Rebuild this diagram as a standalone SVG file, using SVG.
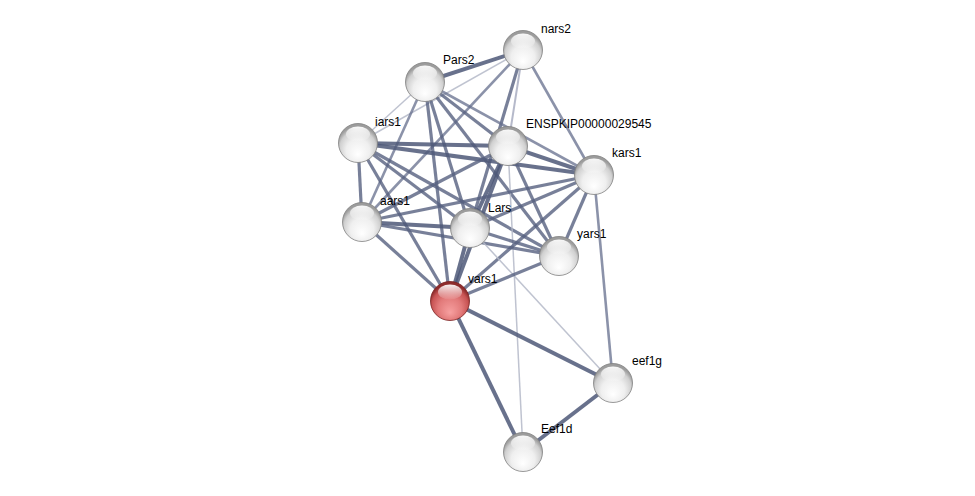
<svg xmlns="http://www.w3.org/2000/svg" width="975" height="496" viewBox="0 0 975 496">
<defs>
<radialGradient id="gw" cx="0.5" cy="0.62" r="0.55" fx="0.5" fy="0.8">
<stop offset="0" stop-color="#ffffff"/>
<stop offset="0.55" stop-color="#efefef"/>
<stop offset="0.85" stop-color="#d0d0d0"/>
<stop offset="1" stop-color="#9c9c9c"/>
</radialGradient>
<radialGradient id="gr" cx="0.5" cy="0.62" r="0.55" fx="0.5" fy="0.8">
<stop offset="0" stop-color="#f7a0a0"/>
<stop offset="0.55" stop-color="#e27a7a"/>
<stop offset="0.85" stop-color="#c85454"/>
<stop offset="1" stop-color="#8e2c2c"/>
</radialGradient>
<linearGradient id="hl" x1="0" y1="0" x2="0" y2="1">
<stop offset="0" stop-color="#ffffff" stop-opacity="0.95"/>
<stop offset="1" stop-color="#ffffff" stop-opacity="0.05"/>
</linearGradient>
</defs>
<style>
.e line{fill:none;stroke-linecap:butt}
.s4{stroke:#4e5878;stroke-width:4;stroke-opacity:0.85}
.s3{stroke:#56607f;stroke-width:3.2;stroke-opacity:0.8}
.s2{stroke:#646d8c;stroke-width:2.6;stroke-opacity:0.75}
.l{stroke:#959bb3;stroke-width:2;stroke-opacity:0.7}
.vl{stroke:#b4b8c8;stroke-width:1.5;stroke-opacity:0.85}
.bw{fill:url(#gw);stroke:#808080;stroke-width:0.8}
.br{fill:url(#gr);stroke:#7a2020;stroke-width:0.8}
.h{fill:url(#hl)}
text{font-family:"Liberation Sans",Arial,sans-serif;font-size:12px;fill:#000}
</style>
<rect width="975" height="496" fill="#ffffff"/>
<g id="connectors" class="e">
<line class="vl" x1="358" y1="143" x2="523" y2="50"/>
<line class="vl" x1="358" y1="143" x2="425" y2="82"/>
<line class="s4" x1="425" y1="82" x2="523" y2="50"/>
<line class="l" x1="523" y1="50" x2="508" y2="146"/>
<line class="s3" x1="523" y1="50" x2="470" y2="228"/>
<line class="s2" x1="523" y1="50" x2="594" y2="175"/>
<line class="s2" x1="523" y1="50" x2="362" y2="222"/>
<line class="s2" x1="425" y1="82" x2="362" y2="222"/>
<line class="s3" x1="425" y1="82" x2="450" y2="301"/>
<line class="s3" x1="425" y1="82" x2="470" y2="228"/>
<line class="s3" x1="425" y1="82" x2="559" y2="256"/>
<line class="s3" x1="425" y1="82" x2="508" y2="146"/>
<line class="s2" x1="425" y1="82" x2="594" y2="175"/>
<line class="s4" x1="358" y1="143" x2="508" y2="146"/>
<line class="s4" x1="358" y1="143" x2="594" y2="175"/>
<line class="s3" x1="358" y1="143" x2="362" y2="222"/>
<line class="s3" x1="358" y1="143" x2="470" y2="228"/>
<line class="s3" x1="358" y1="143" x2="559" y2="256"/>
<line class="s3" x1="358" y1="143" x2="450" y2="301"/>
<line class="s4" x1="508" y1="146" x2="594" y2="175"/>
<line class="s3" x1="508" y1="146" x2="362" y2="222"/>
<line class="s4" x1="508" y1="146" x2="470" y2="228"/>
<line class="s3" x1="508" y1="146" x2="559" y2="256"/>
<line class="s4" x1="508" y1="146" x2="450" y2="301"/>
<line class="vl" x1="508" y1="146" x2="523" y2="452"/>
<line class="s3" x1="594" y1="175" x2="362" y2="222"/>
<line class="s3" x1="594" y1="175" x2="470" y2="228"/>
<line class="s3" x1="594" y1="175" x2="559" y2="256"/>
<line class="s3" x1="594" y1="175" x2="450" y2="301"/>
<line class="s2" x1="594" y1="175" x2="613" y2="383"/>
<line class="s4" x1="362" y1="222" x2="470" y2="228"/>
<line class="s3" x1="362" y1="222" x2="559" y2="256"/>
<line class="s3" x1="362" y1="222" x2="450" y2="301"/>
<line class="s3" x1="470" y1="228" x2="559" y2="256"/>
<line class="s4" x1="470" y1="228" x2="450" y2="301"/>
<line class="vl" x1="470" y1="228" x2="613" y2="383"/>
<line class="s3" x1="559" y1="256" x2="450" y2="301"/>
<line class="s4" x1="450" y1="301" x2="613" y2="383"/>
<line class="s4" x1="450" y1="301" x2="523" y2="452"/>
<line class="s4" x1="613" y1="383" x2="523" y2="452"/>
</g>
<g id="node-nars2"><circle class="bw" cx="523" cy="50" r="19.5"/><ellipse class="h" cx="523" cy="41" rx="12" ry="7.5"/><text x="541" y="33">nars2</text></g>
<g id="node-Pars2"><circle class="bw" cx="425" cy="82" r="19.5"/><ellipse class="h" cx="425" cy="73" rx="12" ry="7.5"/><text x="443" y="64">Pars2</text></g>
<g id="node-iars1"><circle class="bw" cx="358" cy="143" r="19.5"/><ellipse class="h" cx="358" cy="134" rx="12" ry="7.5"/><text x="375" y="126">iars1</text></g>
<g id="node-ENSPKIP00000029545"><circle class="bw" cx="508" cy="146" r="19.5"/><ellipse class="h" cx="508" cy="137" rx="12" ry="7.5"/><text x="526" y="128">ENSPKIP00000029545</text></g>
<g id="node-kars1"><circle class="bw" cx="594" cy="175" r="19.5"/><ellipse class="h" cx="594" cy="166" rx="12" ry="7.5"/><text x="612" y="157">kars1</text></g>
<g id="node-aars1"><circle class="bw" cx="362" cy="222" r="19.5"/><ellipse class="h" cx="362" cy="213" rx="12" ry="7.5"/><text x="380" y="205">aars1</text></g>
<g id="node-Lars"><circle class="bw" cx="470" cy="228" r="19.5"/><ellipse class="h" cx="470" cy="219" rx="12" ry="7.5"/><text x="488" y="212">Lars</text></g>
<g id="node-yars1"><circle class="bw" cx="559" cy="256" r="19.5"/><ellipse class="h" cx="559" cy="247" rx="12" ry="7.5"/><text x="577" y="238">yars1</text></g>
<g id="node-vars1"><circle class="br" cx="450" cy="301" r="19.5"/><ellipse class="h" cx="450" cy="292" rx="12" ry="7.5"/><text x="468" y="283">vars1</text></g>
<g id="node-eef1g"><circle class="bw" cx="613" cy="383" r="19.5"/><ellipse class="h" cx="613" cy="374" rx="12" ry="7.5"/><text x="632" y="365">eef1g</text></g>
<g id="node-Eef1d"><circle class="bw" cx="523" cy="452" r="19.5"/><ellipse class="h" cx="523" cy="443" rx="12" ry="7.5"/><text x="541" y="433">Eef1d</text></g>
</svg>
